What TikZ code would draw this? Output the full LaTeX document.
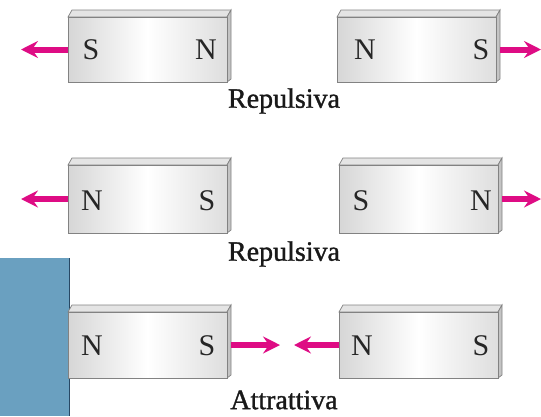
\documentclass[tikz,border=0pt]{standalone}
\usepackage{fontspec}
\setmainfont{Liberation Serif}
\newfontfamily\captionfont[FakeBold=1.2]{Liberation Serif}
\usetikzlibrary{arrows.meta}
\definecolor{pull}{RGB}{222,12,132}
\definecolor{panel}{RGB}{106,160,192}
\definecolor{paneledge}{RGB}{40,72,100}
\definecolor{barline}{RGB}{130,130,130}
\definecolor{bartop}{RGB}{228,228,228}
\definecolor{barside}{RGB}{196,196,196}
\begin{document}
\begin{tikzpicture}[x=1pt,y=-1pt,
  pole/.style={font=\fontsize{30}{30}\selectfont, text=black!85},
  caption/.style={font=\captionfont\fontsize{28}{28}\selectfont, text=black!90},
  force/.style={draw=pull, line width=6pt, -{Stealth[length=17pt,width=17pt,inset=6pt]}}]
\useasboundingbox (0,0) rectangle (541,416);
% blue panel at the lower left
\fill[panel] (0,258) rectangle (70,416);
\draw[paneledge, line width=1.2pt] (69.4,258) -- (69.4,416);
% one bar magnet: \magnetbar{name}{left x}{front top y}{bottom y}
\newcommand{\magnetbar}[4]{%
  \fill[bartop, draw=barline, line width=0.7pt]
    (#2,#3) -- (#2+4,#3-7) -- (#2+163,#3-7) -- (#2+159,#3) -- cycle;
  \fill[barside, draw=barline, line width=0.7pt]
    (#2+159,#3) -- (#2+163,#3-7) -- (#2+163,#4-3) -- (#2+159,#4) -- cycle;
  \shade[left color=gray!32, right color=gray!26, middle color=white]
    (#2,#3) rectangle (#2+159,#4);
  \draw[barline, line width=0.7pt] (#2,#3) rectangle (#2+159,#4);
  \node[coordinate] (#1w) at (#2,{(#3+#4)/2}) {};
  \node[coordinate] (#1e) at (#2+163,{(#3+#4)/2}) {};
}
% repulsion, S-N / N-S
\magnetbar{a}{68}{17}{82}
\magnetbar{b}{337}{17}{82}
\node[pole] (a1) at (91,50) {S};
\node[pole] (a2) at (206,50) {N};
\node[pole] (b1) at (365,50) {N};
\node[pole] (b2) at (481,50) {S};
\coordinate (aout) at (21,49.5);
\coordinate (bout) at (541,49.5);
\draw[force] (aw) -- (aout);
\draw[force] (be) -- (bout);
\node[caption] (r1) at (284,101) {Repulsiva};
% repulsion, N-S / S-N
\magnetbar{c}{68}{165}{233}
\magnetbar{d}{339}{165}{233}
\node[pole] (c1) at (92,201) {N};
\node[pole] (c2) at (207,201) {S};
\node[pole] (d1) at (361,201) {S};
\node[pole] (d2) at (481,201) {N};
\coordinate (cout) at (21,199);
\coordinate (dout) at (541,199);
\draw[force] (cw) -- (cout);
\draw[force] (de) -- (dout);
\node[caption] (r2) at (284,254) {Repulsiva};
% attraction, N-S / N-S
\magnetbar{e}{68}{312}{378}
\magnetbar{f}{339}{312}{378}
\node[pole] (e1) at (92,346) {N};
\node[pole] (e2) at (207,346) {S};
\node[pole] (f1) at (362,346) {N};
\node[pole] (f2) at (481,346) {S};
\coordinate (ein) at (280,345);
\coordinate (fin) at (294,345);
\draw[force] (ee) -- (ein);
\draw[force] (fw) -- (fin);
\node[caption] (t3) at (284,400) {Attrattiva};
\end{tikzpicture}
\end{document}
